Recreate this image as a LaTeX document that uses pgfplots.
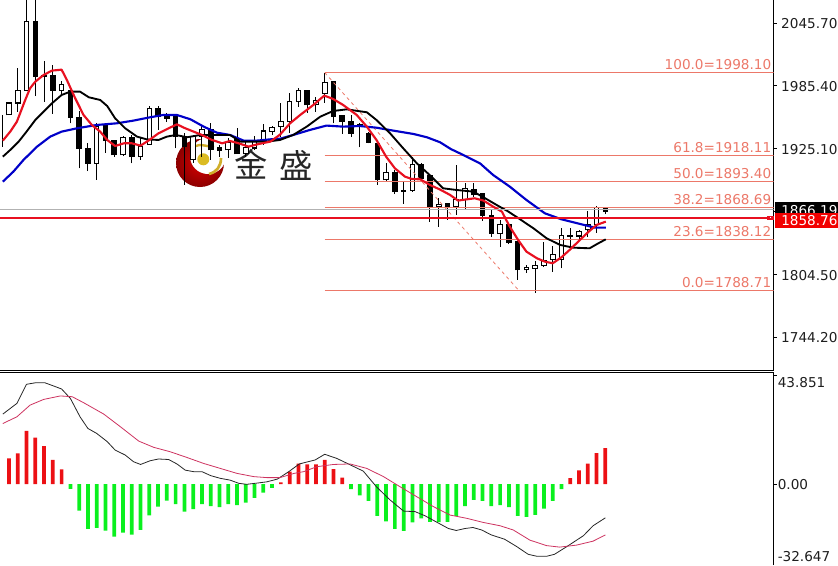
\documentclass[border=0pt]{standalone}
\usepackage{pgfplots}
\usepackage{pgfplotstable}
\usepackage{fontspec}
\pgfplotsset{compat=1.18}
\setmainfont{DejaVu Sans}
\newfontfamily\cjk{Noto Sans CJK SC}

\definecolor{fibo}{RGB}{236,120,105}
\definecolor{mared}{RGB}{232,16,32}
\definecolor{mablue}{RGB}{0,0,200}
\definecolor{hred}{RGB}{236,16,20}
\definecolor{hgreen}{RGB}{10,240,30}
\definecolor{sigl}{RGB}{205,50,95}
\definecolor{txt}{RGB}{30,30,30}

% bullish candles
\pgfplotstableread{
i open close high low
1 1957.4 1968.9 1968.9 1957.4
2 1968.9 1980.7 2002.5 1960.3
3 1980.7 2047.0 2096.0 1980.4
7 1980.7 1986.2 1990.0 1976.6
11 1911.0 1946.8 1949.7 1895.0
14 1919.0 1935.6 1937.2 1918.0
16 1917.4 1927.0 1935.3 1914.2
17 1929.3 1963.2 1966.0 1928.6
22 1914.2 1936.6 1938.2 1911.3
23 1936.6 1943.7 1947.8 1917.1
26 1923.8 1930.8 1935.3 1916.1
28 1920.0 1926.0 1931.5 1917.1
29 1925.7 1932.4 1937.2 1923.8
30 1933.4 1942.0 1948.8 1928.6
31 1941.4 1945.6 1946.8 1938.2
32 1946.2 1951.0 1968.9 1936.6
33 1951.0 1970.2 1978.5 1940.1
34 1970.2 1980.7 1983.3 1965.4
36 1967.0 1971.1 1975.0 1960.6
37 1978.2 1988.4 1998.0 1968.9
44 1895.0 1902.0 1911.6 1893.4
47 1884.7 1909.4 1917.4 1883.8
50 1869.4 1871.7 1877.7 1850.2
52 1869.1 1875.8 1909.4 1861.4
53 1875.8 1886.4 1892.1 1866.2
57 1843.8 1852.5 1856.6 1831.0
60 1808.6 1811.2 1813.4 1806.0
61 1810.2 1813.1 1817.5 1786.8
62 1812.7 1817.5 1835.8 1811.2
63 1818.2 1823.7 1831.6 1807.0
64 1818.9 1841.5 1849.2 1810.2
66 1841.2 1845.4 1847.0 1838.4
67 1847.0 1851.8 1865.2 1840.3
68 1851.8 1868.8 1870.0 1844.1
}\upbars

% bearish candles
\pgfplotstableread{
i open close high low
4 2047.0 1994.8 2096.0 1975.6
5 1995.3 1994.4 2009.5 1970.2
6 1994.8 1980.7 2005.4 1958.4
8 1980.7 1955.2 1980.7 1949.4
9 1955.2 1925.4 1961.5 1906.2
10 1925.4 1911.0 1930.8 1903.6
12 1946.8 1932.7 1947.8 1921.2
13 1932.7 1919.0 1933.4 1917.4
15 1935.6 1917.4 1938.2 1911.0
18 1963.2 1956.4 1966.0 1943.0
19 1956.4 1954.5 1959.6 1951.0
20 1955.8 1936.6 1957.4 1925.4
21 1936.6 1927.6 1940.1 1890.2
24 1943.0 1923.8 1949.7 1914.2
25 1926.0 1923.1 1928.6 1917.1
27 1933.4 1920.0 1944.9 1920.0
35 1980.7 1967.0 1981.4 1959.3
38 1989.4 1956.4 1989.4 1949.4
39 1956.4 1951.0 1957.4 1939.2
40 1951.0 1939.8 1957.4 1936.6
41 1947.8 1946.8 1949.4 1926.4
42 1939.2 1931.2 1941.4 1930.2
43 1930.2 1895.0 1930.2 1890.2
45 1902.0 1883.8 1904.6 1881.3
46 1884.7 1884.2 1894.3 1872.0
48 1909.4 1896.6 1911.0 1895.0
49 1898.8 1869.4 1899.8 1855.0
51 1872.0 1869.4 1872.9 1856.6
54 1886.1 1880.6 1892.1 1879.0
55 1882.2 1860.7 1882.2 1855.9
56 1860.7 1843.8 1866.2 1840.6
58 1851.8 1834.8 1852.8 1833.3
59 1835.8 1808.6 1835.8 1799.0
65 1841.9 1841.2 1849.2 1831.0
69 1867.8 1865.2 1869.4 1862.1
}\downbars

% MACD histogram
\pgfplotstableread{
i v
1 10.3
2 12.4
3 21.4
4 18.7
5 15.3
6 9.7
7 5.9
32 0.7
33 5.0
34 8.2
35 7.9
36 7.9
37 9.7
38 6.0
39 2.6
65 2.4
66 5.5
67 8.2
68 12.5
69 14.5
}\histup

\pgfplotstableread{
i v
8 -1.9
9 -10.7
10 -18.1
11 -17.7
12 -18.8
13 -21.2
14 -19.6
15 -20.4
16 -18.5
17 -12.6
18 -9.1
19 -6.7
20 -8.1
21 -11.1
22 -10.1
23 -8.1
24 -8.9
25 -9.3
26 -8.1
27 -8.5
28 -7.5
29 -5.6
30 -3.4
31 -1.5
40 -2.0
41 -4.6
42 -6.8
43 -12.8
44 -15.0
45 -18.1
46 -18.9
47 -15.4
48 -13.8
49 -15.2
50 -15.3
51 -15.2
52 -12.8
53 -8.9
54 -6.4
55 -6.8
56 -8.9
57 -8.5
58 -9.3
59 -12.8
60 -13.2
61 -12.4
62 -9.9
63 -6.8
64 -2.0
}\histdown

\begin{document}
\begin{tikzpicture}
\path[use as bounding box] (0,0) rectangle (628.5pt,-423.75pt);

% logo sits behind the chart
\begin{scope}[x=0.75pt,y=-0.75pt]
\shade[inner color=red!85!black,outer color=red!55!black] (200,163) circle (24);
\fill[white] (208,156) circle (18);
\fill[yellow!70!orange!85!black] (203.3,159.3) circle (6);
\draw[yellow!65!orange!80!black,line width=1.8pt] (196,146) .. controls (203,143) and (208,148) .. (214,146);
\draw[yellow!65!orange!80!black,line width=2pt] (221,158) .. controls (221,166) and (217,172) .. (209,174);
\node[text=black!85,font=\cjk\fontsize{25}{25}\selectfont,inner sep=0pt] at (251,164) {金};
\node[text=black!85,font=\cjk\fontsize{25}{25}\selectfont,inner sep=0pt] at (296,165) {盛};
\end{scope}

\begin{axis}[
    at={(0,0)}, anchor=north west,
    scale only axis, width=580.3pt, height=278pt,
    xmin=-0.026, xmax=88.2,
    ymin=1711.9, ymax=2067.78,
    axis x line=bottom, axis y line=right,
    axis line style={-,black,line width=0.8pt},
    xtick=\empty,
    ytick={2045.7,1985.4,1925.1,1864.8,1804.5,1744.2},
    yticklabels={2045.70,1985.40,1925.10,,1804.50,1744.20},
    tick align=outside, major tick length=2.2pt,
    tick style={black,line width=0.7pt},
    yticklabel style={font=\fontsize{10.2}{12}\selectfont,text=txt,anchor=west,inner sep=0pt,xshift=3.2pt,yshift=-0.7pt},
]
% wicks
\addplot[draw=none,mark=none,forget plot,error bars/.cd,y dir=plus,y explicit,error mark=none,error bar style={draw=black,line width=0.75pt}]
    table[x=i,y=low,y error plus expr=\thisrow{high}-\thisrow{low}] {\upbars};
\addplot[draw=none,mark=none,forget plot,error bars/.cd,y dir=plus,y explicit,error mark=none,error bar style={draw=black,line width=0.75pt}]
    table[x=i,y=low,y error plus expr=\thisrow{high}-\thisrow{low}] {\downbars};
\addplot[black,line width=0.75pt,forget plot] coordinates {(0.27,1957.4) (0.27,1926.7)};
% bodies
\addplot[draw=none,mark=none,forget plot,error bars/.cd,y dir=plus,y explicit,error mark=none,error bar style={draw=black,line width=4.2pt}]
    table[x=i,y expr=\thisrow{open}-0.5,y error plus expr=\thisrow{close}-\thisrow{open}+1] {\upbars};
\addplot[draw=none,mark=none,forget plot,error bars/.cd,y dir=plus,y explicit,error mark=none,error bar style={draw=white,line width=2.7pt}]
    table[x=i,y expr=\thisrow{open}+0.5,y error plus expr=\thisrow{close}-\thisrow{open}-1] {\upbars};
\addplot[draw=none,mark=none,forget plot,error bars/.cd,y dir=plus,y explicit,error mark=none,error bar style={draw=black,line width=4.2pt}]
    table[x=i,y expr=\thisrow{close}-0.5,y error plus expr=\thisrow{open}-\thisrow{close}+1] {\downbars};

% fibonacci levels
\addplot[fibo,line width=0.75pt] coordinates {(37,1998.10) (88.2,1998.10)};
\addplot[fibo,line width=0.75pt] coordinates {(37,1918.11) (88.2,1918.11)};
\addplot[fibo,line width=0.75pt] coordinates {(37,1893.40) (88.2,1893.40)};
\addplot[fibo,line width=0.75pt] coordinates {(37,1868.69) (88.2,1868.69)};
\addplot[fibo,line width=0.75pt] coordinates {(37,1838.12) (88.2,1838.12)};
\addplot[fibo,line width=0.75pt] coordinates {(37,1788.71) (88.2,1788.71)};
\addplot[fibo,line width=0.6pt,dash pattern=on 2.5pt off 2.5pt] coordinates {(37,1998.10) (59.15,1788.71)};

% slow MA
\addplot[mablue,line width=1.6pt,line join=round] coordinates {
(0.3,1893.4) (1.5,1903) (2.65,1914.2) (4.2,1927) (5.7,1936.6) (7,1941.4) (8.75,1944.6) (11,1947.8)
(13.3,1949.4) (15.2,1952) (17.1,1955.2) (18.6,1957.4) (20.15,1957.4) (21.7,1953.2) (23.2,1946.2)
(24.7,1940.4) (26.2,1938.2) (27.75,1932.8) (29.3,1932.8) (30.8,1934) (31.9,1934.6) (33.4,1938.2)
(35.3,1943) (37.2,1947.2) (39.1,1946.2) (41,1946.8) (42.9,1945.2) (44.8,1942.4) (47.1,1939.2)
(48.65,1936) (50.15,1931.2) (51.4,1924.6) (52.8,1919) (54.7,1911) (56.2,1899.8) (58.1,1888.6)
(60,1875.8) (62.1,1863) (64,1857.2) (66.1,1852.8) (67.8,1849.2) (69.05,1849.2)};
% middle MA
\addplot[black,line width=1.4pt,line join=round] coordinates {
(0.3,1917.4) (1.14,1923.8) (2.1,1931.8) (3,1941.4) (4,1952.6) (4.95,1960.6) (5.9,1968.6) (7,1976.6)
(8,1979.8) (9.1,1979.8) (10.1,1974.4) (11.4,1971.8) (12.2,1966) (13.1,1954.2) (14.25,1944.6)
(15.6,1936.6) (16.7,1934) (18.05,1933.4) (19,1936.6) (20,1938.2) (21.3,1936) (22.8,1938.2)
(24.3,1938.2) (26.2,1938.2) (27.4,1931.8) (28.9,1931.8) (30.4,1931.8) (31.9,1933.4) (33.4,1938.2)
(34.95,1946.2) (36.5,1955.8) (37.95,1961.2) (39.5,1962.8) (41.8,1960) (42.9,1952.6) (44.45,1939.8)
(45.95,1925.4) (47.5,1911) (49,1899.5) (50.5,1887) (52,1885.4) (53.95,1883.8) (55.3,1877.4)
(56.6,1871) (57.95,1864.6) (59.1,1858.2) (60.8,1848.6) (62.3,1839) (63.85,1832.6) (65.35,1830)
(67.2,1829.4) (68.2,1834.2) (69.05,1838)};
% fast MA
\addplot[mared,line width=1.6pt,line join=round] coordinates {
(0.3,1932.8) (1.14,1941.4) (1.9,1951) (2.85,1971.8) (3.4,1983) (4,1989.4) (4.95,1995.8) (5.9,2000)
(7,2000.9) (7.6,1991) (8.55,1973.4) (9.5,1957.4) (10.45,1947.8) (11.4,1941.4) (12.2,1933.4)
(13.1,1927.6) (14.1,1930.2) (15,1930.2) (16,1928) (16.9,1932.8) (18.05,1939.8) (19.2,1944.6)
(20.15,1948.4) (21.1,1944.6) (22.05,1941.4) (23,1938.2) (24.15,1933.4) (25.3,1930.2) (26.2,1932.4)
(27.2,1930.2) (28.3,1927) (29.5,1929.6) (30.8,1931.8) (31.9,1938.5) (33.05,1949.4) (34.2,1957.4)
(35.7,1967) (36.95,1976) (37.95,1972.8) (39.1,1967) (40.65,1957.4) (41.8,1946.2) (42.9,1933.4)
(44,1917.4) (45,1906.2) (46.15,1898.2) (46.9,1896) (47.9,1895.6) (49,1890.2) (50.1,1886)
(51.3,1880.6) (52.2,1875.2) (53.2,1876.4) (54.1,1877.4) (55.1,1875.2) (56.2,1869.4) (57.2,1864.6)
(58.1,1850.2) (59.1,1836.8) (60,1826.2) (61.2,1819.8) (62.1,1816.6) (63,1815) (64,1820.8)
(65,1828.4) (66.1,1837.4) (67.1,1845.4) (68,1851.8) (69.05,1855)};

% bid and ask
\addplot[black!30,line width=0.75pt] coordinates {(-0.026,1866.19) (88.2,1866.19)};
\addplot[mared,line width=1.6pt] coordinates {(-0.026,1858.76) (88.2,1858.76)};

\node[anchor=base east,text=fibo,font=\fontsize{10.2}{12}\selectfont,inner sep=0pt] at (axis cs:87.95,2000.9) {100.0=1998.10};
\node[anchor=base east,text=fibo,font=\fontsize{10.2}{12}\selectfont,inner sep=0pt] at (axis cs:87.95,1920.9) {61.8=1918.11};
\node[anchor=base east,text=fibo,font=\fontsize{10.2}{12}\selectfont,inner sep=0pt] at (axis cs:87.95,1896.2) {50.0=1893.40};
\node[anchor=base east,text=fibo,font=\fontsize{10.2}{12}\selectfont,inner sep=0pt] at (axis cs:87.95,1871.5) {38.2=1868.69};
\node[anchor=base east,text=fibo,font=\fontsize{10.2}{12}\selectfont,inner sep=0pt] at (axis cs:87.95,1840.9) {23.6=1838.12};
\node[anchor=base east,text=fibo,font=\fontsize{10.2}{12}\selectfont,inner sep=0pt] at (axis cs:87.95,1791.5) {0.0=1788.71};
\end{axis}

\begin{axis}[
    at={(0,-279.4pt)}, anchor=north west,
    scale only axis, width=580.3pt, height=144.4pt,
    xmin=-0.026, xmax=88.2,
    ymin=-32.64, ymax=44.93,
    axis x line=top, axis y line=right,
    axis line style={-,black,line width=0.8pt},
    xtick=\empty,
    ytick={43.851,0}, yticklabels={,},
    tick align=outside, major tick length=2.2pt,
    tick style={black,line width=0.7pt},
]
\addplot[ybar,bar width=2.8pt,bar shift=0pt,fill=hred,draw=none] table[x=i,y=v] {\histup};
\addplot[ybar,bar width=2.8pt,bar shift=0pt,fill=hgreen,draw=none] table[x=i,y=v] {\histdown};
% MACD
\addplot[black!85,line width=0.6pt,line join=round] coordinates {
(0.3,28.2) (1.9,32.5) (3,40.2) (4,40.8) (5.1,40.8) (6.1,39.5) (7,38.3) (8,34.5) (9.1,27.1) (10,22.4)
(11,20.4) (12.2,17.1) (13.1,13.7) (14.25,11.7) (15.2,9) (16,7.9) (17.1,9.4) (18.05,10.1) (19.2,9.9)
(20.15,8.1) (21.1,5.6) (22.05,5) (23,5) (24,3.4) (25.1,2.3) (26.2,1.6) (27.2,0.3) (28.1,-0.1)
(29.3,0.4) (30.4,0.9) (31.6,2) (32.9,5) (34.1,8.1) (35.9,9.7) (37,12) (38.4,10.3) (39.7,8.1)
(41.4,5.2) (42.9,-1.1) (44.45,-6.4) (46,-10.9) (47.3,-11.1) (48.45,-12.8) (49.8,-15.4) (51.1,-17.9)
(52,-18.7) (53,-17.9) (53.9,-17.5) (54.9,-18.5) (56,-20.5) (57.5,-22.2) (58.9,-25.2) (60.2,-28.3)
(61.2,-29.1) (62.3,-29.1) (63.2,-28.3) (64.6,-25.2) (66.5,-20.8) (67.6,-16.8) (69,-13.6)};
% signal
\addplot[sigl,line width=0.6pt,line join=round] coordinates {
(0.3,24.4) (1.9,27.1) (3.4,31.8) (4.95,34.1) (6.85,35.5) (8.2,35.2) (9.5,32.8) (11.8,28.2) (13.7,23.1)
(15.8,17.3) (17.5,14.8) (19.4,13) (21.3,10.7) (23.2,8.3) (25.1,6.3) (27,4.3) (28.9,3) (30.4,2.6)
(31.9,2.6) (33.5,4.3) (34.6,5) (36.1,7) (38,7.9) (39.9,8.1) (41.8,6.3) (43.7,3) (45.6,-1.1) (47.5,-5.1)
(49.4,-9.1) (51.3,-12.5) (53.2,-13.8) (55,-15.4) (57,-16.8) (58.5,-18.5) (60.4,-22.6) (62.3,-24.8)
(63.8,-25.4) (65.7,-24.6) (67.6,-23) (69,-20.5)};
\end{axis}

% price boxes and MACD scale labels
\begin{scope}[x=0.75pt,y=-0.75pt]
\fill[black] (775,202) rectangle (838,216);
\node[text=white,font=\fontsize{10.2}{12}\selectfont,inner sep=0pt,anchor=west] at (781,210.5) {1866.19};
\fill[red!95!black] (775,213) rectangle (838,228);
\node[text=white,font=\fontsize{10.2}{12}\selectfont,inner sep=0pt,anchor=west] at (781,220.5) {1858.76};
\fill[mared] (767,215.6) rectangle (774,219.6);
\fill[white] (769.8,216.9) rectangle (771.2,218.3);
\node[text=txt,font=\fontsize{10.2}{12}\selectfont,inner sep=0pt,anchor=west] at (777.5,382.7) {43.851};
\node[text=txt,font=\fontsize{10.2}{12}\selectfont,inner sep=0pt,anchor=west] at (777.5,485) {0.00};
\node[text=txt,font=\fontsize{10.2}{12}\selectfont,inner sep=0pt,anchor=west] at (777.5,556.7) {-32.647};
\end{scope}
\end{tikzpicture}
\end{document}
